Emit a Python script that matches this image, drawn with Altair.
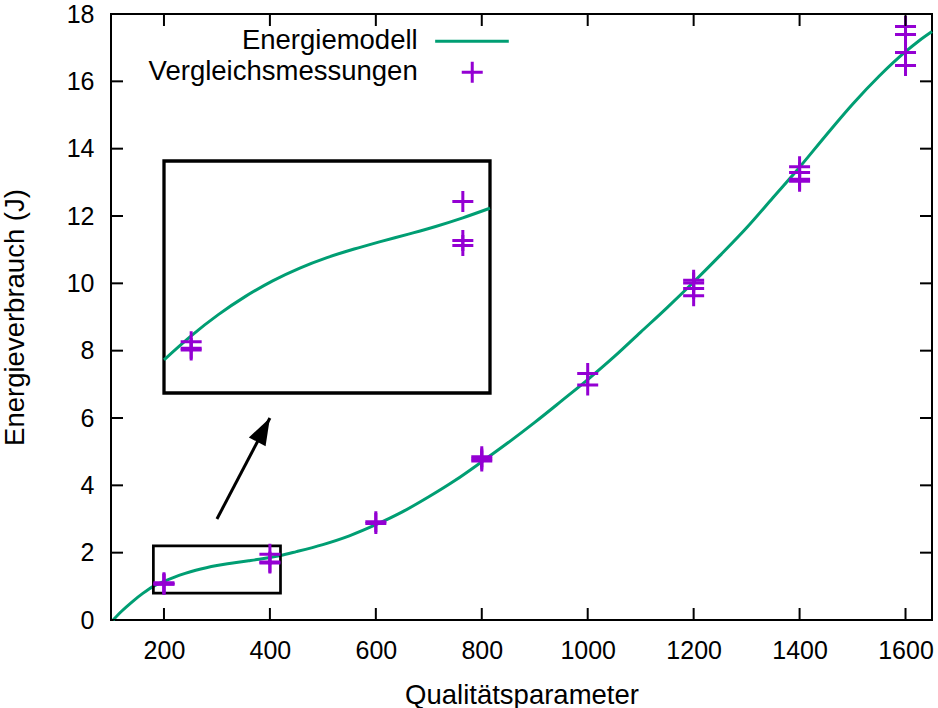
import altair as alt
import pandas as pd

# ---------------- data ----------------
model_x = [104, 120, 140, 160, 180, 200, 220, 240, 260, 280, 300, 320, 340, 360, 380, 400, 420,
           450, 500, 550, 600, 650, 700, 750, 800, 850, 900, 950, 1000, 1050, 1100, 1150, 1200,
           1250, 1300, 1350, 1400, 1450, 1500, 1550, 1600, 1625, 1650]
model_y = [0.0, 0.26, 0.54, 0.79, 1.00, 1.145, 1.273, 1.383, 1.477, 1.554, 1.617, 1.669, 1.715, 1.759, 1.805, 1.857, 1.915,
           2.03, 2.24, 2.50, 2.83, 3.21, 3.66, 4.15, 4.70, 5.27, 5.87, 6.50, 7.14, 7.82, 8.55, 9.28, 10.04,
           10.83, 11.65, 12.55, 13.45, 14.40, 15.32, 16.15, 16.88, 17.20, 17.48]

meas_x = [200, 200, 200, 400, 400, 400, 600, 600, 800, 800, 800, 1000, 1000,
          1200, 1200, 1200, 1200, 1400, 1400, 1400, 1400, 1600, 1600, 1600, 1600]
meas_y = [1.11, 1.07, 1.06, 1.955, 1.72, 1.69, 2.92, 2.87, 4.85, 4.78, 4.72, 7.32, 6.98,
          10.09, 10.01, 9.85, 9.63, 13.46, 13.29, 13.09, 13.03, 17.63, 17.39, 16.86, 16.47]

x_ticks = [200, 400, 600, 800, 1000, 1200, 1400, 1600]
y_ticks = [0, 2, 4, 6, 8, 10, 12, 14, 16, 18]
legend_labels = ["Energiemodell", "Vergleichsmessungen"]

X_DOMAIN = [100, 1650]
Y_DOMAIN = [0, 18]
ZOOM_X = [180, 420]       # zoomed region (data units)
ZOOM_Y = [0.8, 2.2]
ARROW = {"x": [300], "y": [3], "x2": [400], "y2": [6]}

# ---------------- layout / style ----------------
W, H = 821, 606
LEFT, TOP = 111, 14
INSET_X_RANGE = [53, 379]      # pixel range of inset inside the plot area
INSET_Y_RANGE = [379, 147]
FONT = "Liberation Sans"
GREEN = "#009E73"
PURPLE = "#9400D3"
CROSS = "M-1,0L1,0M0,-1L0,1"
ARROWHEAD = "M0,0L-0.7,2L0.7,2Z"

xs = alt.Scale(domain=X_DOMAIN, nice=False, zero=False)
ys = alt.Scale(domain=Y_DOMAIN, nice=False, zero=False)

curve_df = pd.DataFrame({"x": model_x, "y": model_y})
meas_df = pd.DataFrame({"x": meas_x, "y": meas_y})

x_axis = alt.Axis(values=x_ticks, title="Qualitätsparameter", grid=False, domain=False,
                  ticks=False, tickSize=0, labelPadding=18, labelFontSize=25, labelFont=FONT,
                  labelColor="black", titleFont=FONT, titleFontSize=27.5, titleFontWeight="normal",
                  titleColor="black", titleBaseline="alphabetic", titleX=W / 2, titleY=83,
                  format="d", labelFlush=False, orient="bottom")
y_axis = alt.Axis(values=y_ticks, title="Energieverbrauch (J)", grid=False, domain=False,
                  ticks=False, tickSize=0, labelPadding=17, labelFontSize=25, labelFont=FONT,
                  labelColor="black", titleFont=FONT, titleFontSize=27.5, titleFontWeight="normal",
                  titleColor="black", titleAngle=-90, titleBaseline="alphabetic",
                  titleX=-88, titleY=H / 2, titleAlign="center", format="d", labelFlush=False,
                  orient="left")

curve = alt.Chart(curve_df).mark_line(color=GREEN, strokeWidth=3, interpolate="monotone").encode(
    x=alt.X("x:Q", scale=xs, axis=x_axis),
    y=alt.Y("y:Q", scale=ys, axis=y_axis),
)

points = alt.Chart(meas_df).mark_point(shape=CROSS, size=441, filled=False, strokeWidth=3,
                                       color=PURPLE, opacity=1).encode(
    x=alt.X("x:Q", scale=xs, axis=None),
    y=alt.Y("y:Q", scale=ys, axis=None),
)

# inward ticks (clipped to the plot area), bottom/top and left/right
xt_df = pd.DataFrame({"x": x_ticks * 2, "y": [Y_DOMAIN[0]] * len(x_ticks) + [Y_DOMAIN[1]] * len(x_ticks)})
yt_df = pd.DataFrame({"x": [X_DOMAIN[0]] * len(y_ticks) + [X_DOMAIN[1]] * len(y_ticks), "y": y_ticks * 2})
xticks_layer = alt.Chart(xt_df).mark_tick(orient="vertical", size=24, thickness=2, color="black",
                                          opacity=1, clip=True).encode(
    x=alt.X("x:Q", scale=xs, axis=None), y=alt.Y("y:Q", scale=ys, axis=None))
yticks_layer = alt.Chart(yt_df).mark_tick(orient="horizontal", size=24, thickness=2, color="black",
                                          opacity=1, clip=True).encode(
    x=alt.X("x:Q", scale=xs, axis=None), y=alt.Y("y:Q", scale=ys, axis=None))

# zoom rectangle in main plot
zoom_df = pd.DataFrame({"x": [ZOOM_X[0]], "x2": [ZOOM_X[1]], "y": [ZOOM_Y[0]], "y2": [ZOOM_Y[1]]})
zoom_rect = alt.Chart(zoom_df).mark_rect(fillOpacity=0, stroke="black", strokeWidth=2.7).encode(
    x=alt.X("x:Q", scale=xs, axis=None), x2="x2:Q",
    y=alt.Y("y:Q", scale=ys, axis=None), y2="y2:Q")

# arrow
arrow_df = pd.DataFrame(ARROW)
shaft = alt.Chart(arrow_df).mark_rule(color="black", strokeWidth=3).encode(
    x=alt.X("x:Q", scale=xs, axis=None), x2="x2:Q",
    y=alt.Y("y:Q", scale=ys, axis=None), y2="y2:Q")
head = alt.Chart(arrow_df).mark_point(shape=ARROWHEAD, size=729, filled=True, color="black",
                                      opacity=1, angle=28).encode(
    x=alt.X("x2:Q", scale=xs, axis=None), y=alt.Y("y2:Q", scale=ys, axis=None))

# legend (gnuplot style: text right-aligned, sample on the right)
LEG_TEXT_X = 679
LEG_Y = [17.19, 16.27]
leg_text_df = pd.DataFrame({"label": legend_labels, "x": [LEG_TEXT_X] * 2, "y": LEG_Y})
leg_text = alt.Chart(leg_text_df).mark_text(align="right", baseline="middle", font=FONT,
                                            fontSize=27.5, color="black").encode(
    x=alt.X("x:Q", scale=xs, axis=None), y=alt.Y("y:Q", scale=ys, axis=None), text="label:N")
leg_line_df = pd.DataFrame({"x": [712], "x2": [851], "y": [LEG_Y[0]]})
leg_line = alt.Chart(leg_line_df).mark_rule(color=GREEN, strokeWidth=3).encode(
    x=alt.X("x:Q", scale=xs, axis=None), x2="x2:Q", y=alt.Y("y:Q", scale=ys, axis=None))
leg_pt_df = pd.DataFrame({"x": [782], "y": [LEG_Y[1]]})
leg_pt = alt.Chart(leg_pt_df).mark_point(shape=CROSS, size=441, filled=False, strokeWidth=3,
                                         color=PURPLE, opacity=1).encode(
    x=alt.X("x:Q", scale=xs, axis=None), y=alt.Y("y:Q", scale=ys, axis=None))

# ---------------- inset (own scales) ----------------
ixs = alt.Scale(domain=ZOOM_X, range=INSET_X_RANGE, nice=False, zero=False)
iys = alt.Scale(domain=ZOOM_Y, range=INSET_Y_RANGE, nice=False, zero=False)

inset_box = alt.Chart(zoom_df).mark_rect(fill="white", stroke="black", strokeWidth=3.3).encode(
    x=alt.X("x:Q", scale=ixs, axis=None), x2="x2:Q",
    y=alt.Y("y:Q", scale=iys, axis=None), y2="y2:Q")
inset_curve_df = curve_df[(curve_df.x >= ZOOM_X[0]) & (curve_df.x <= ZOOM_X[1])]
inset_curve = alt.Chart(inset_curve_df).mark_line(color=GREEN, strokeWidth=3, interpolate="monotone").encode(
    x=alt.X("x:Q", scale=ixs, axis=None), y=alt.Y("y:Q", scale=iys, axis=None))
inset_pts_df = meas_df[(meas_df.x >= ZOOM_X[0]) & (meas_df.x <= ZOOM_X[1]) &
                       (meas_df.y >= ZOOM_Y[0]) & (meas_df.y <= ZOOM_Y[1])]
inset_pts = alt.Chart(inset_pts_df).mark_point(shape=CROSS, size=441, filled=False, strokeWidth=3,
                                               color=PURPLE, opacity=1).encode(
    x=alt.X("x:Q", scale=ixs, axis=None), y=alt.Y("y:Q", scale=iys, axis=None))

# every layer has its own scale; main layers all use the same domain, so they line up
chart = alt.layer(curve, zoom_rect, shaft, head, points, xticks_layer, yticks_layer,
                  leg_text, leg_line, leg_pt, inset_box, inset_curve, inset_pts
                  ).resolve_scale(x="independent", y="independent").properties(
    width=W, height=H,
    padding={"left": LEFT, "top": TOP, "right": 938 - LEFT - W, "bottom": 708 - TOP - H},
    autosize=alt.AutoSizeParams(type="none"),
    background="white",
).configure_view(stroke="black", strokeWidth=2)

chart.save("out.html", embed_options={"renderer": "svg", "actions": False})
